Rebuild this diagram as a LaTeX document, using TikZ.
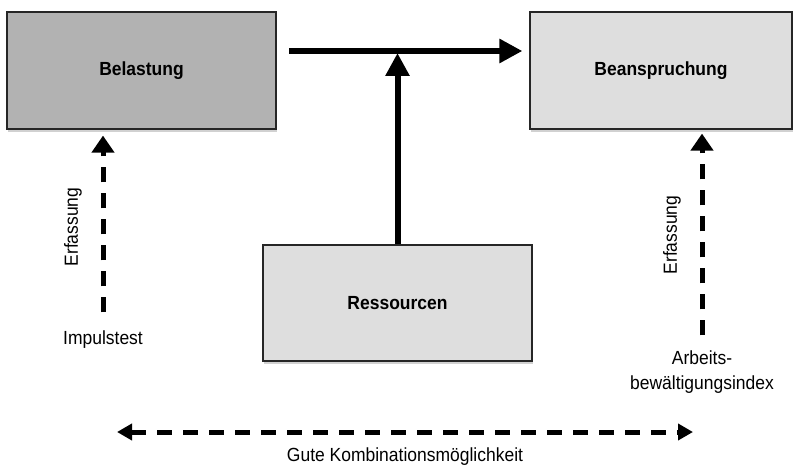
\documentclass[tikz,border=0pt]{standalone}
\usepackage{fontspec}
\setmainfont{Liberation Sans}[FakeStretch=0.92]
\usetikzlibrary{arrows.meta,shadows,positioning}

\begin{document}
\begin{tikzpicture}[x=1pt,y=1pt,yscale=-1,xscale=1,
    box/.style={draw=black!85, line width=1.2pt, minimum width=269pt, minimum height=117pt,
        font=\fontsize{19}{25}\selectfont\bfseries,
        drop shadow={shadow xshift=1pt, shadow yshift=-3pt, fill=black!18, opacity=1}},
    flow/.style={line width=6pt, -{Triangle[length=23pt,width=23pt]}},
    capture/.style={line width=5pt, dash pattern=on 15pt off 11pt, -{Triangle[length=17pt,width=22pt]}},
    span/.style={line width=5pt, dash pattern=on 15pt off 11pt,
        {Triangle[length=15pt,width=16pt]}-{Triangle[length=15pt,width=16pt]}},
    caption/.style={font=\fontsize{19}{25}\selectfont, inner sep=2pt, align=center}]
    \useasboundingbox (0,0) rectangle (794,468);

    %Shape: Boxes
    \node[box, fill=black!30] (belastung) at (141.5,70.5) {Belastung};
    \node[box, fill=black!13, minimum width=262pt] (beanspruchung) at (661,70.5) {Beanspruchung};
    \node[box, fill=black!13, minimum height=116pt] (ressourcen) at (397.5,303) {Ressourcen};

    %Straight Lines: Belastung -> Beanspruchung, Ressourcen joins in
    \coordinate (flowstart) at (289,51);
    \coordinate (flowjoin) at (397.5,51);
    \draw[flow, shorten >=7pt] (flowstart) -- (beanspruchung.west |- flowstart);
    \draw[flow, shorten >=2pt] (ressourcen.north) -- (flowjoin);

    % Text Node
    \node[caption] (impuls) at (103,339.5) {Impulstest};
    % Text Node
    \node[caption] (abi) at (702,372) {Arbeits-\\bewältigungsindex};
    % Text Node
    \node[caption, rotate=90] (erfassungl) at (73,227) {Erfassung};
    % Text Node
    \node[caption, rotate=90] (erfassungr) at (672,235) {Erfassung};

    %Straight Lines: dashed
    \draw[capture, shorten <=16pt, shorten >=6pt] (impuls.north) -- (belastung.south -| impuls);
    \draw[capture, shorten <=13pt, shorten >=4pt] (abi.north) -- (beanspruchung.south -| abi);

    %Straight Lines: bottom
    \coordinate (kombl) at (117,432);
    \coordinate (kombr) at (693,432);
    \draw[span] (kombl) -- (kombr);
    % Text Node
    \node[caption] (kombi) at (405,457) {Gute Kombinationsmöglichkeit};
\end{tikzpicture}
\end{document}
